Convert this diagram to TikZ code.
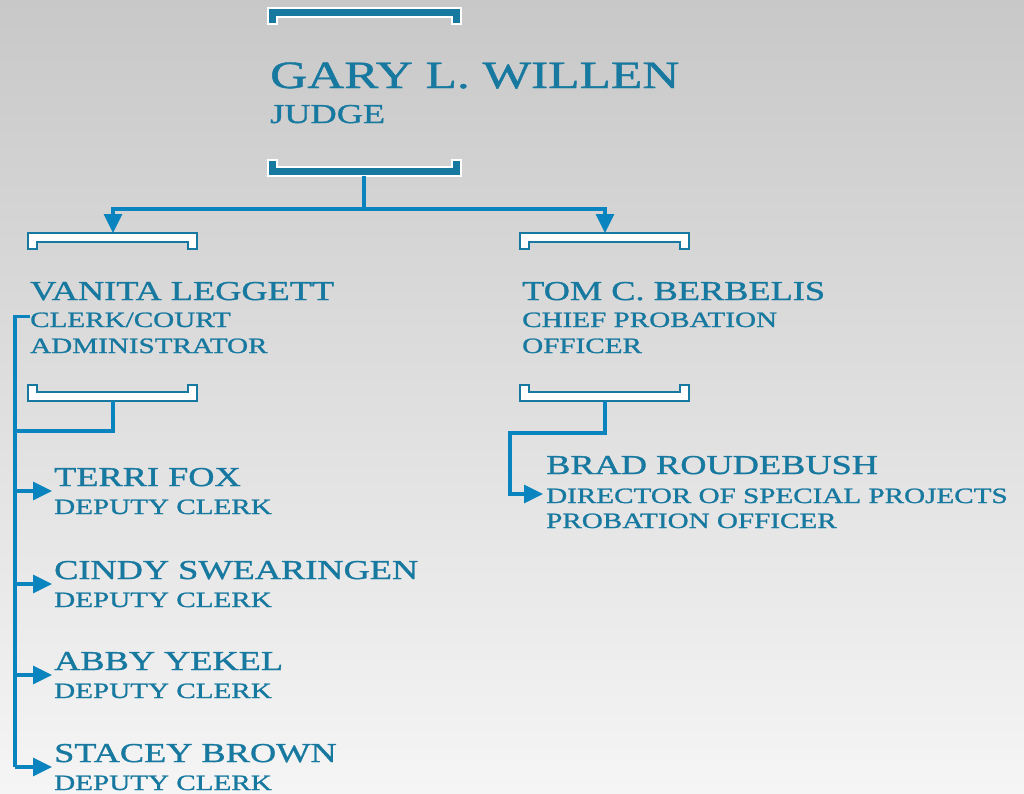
\documentclass[tikz,border=0pt]{standalone}
\usepackage{fontspec}
\setmainfont{Liberation Serif}[FakeStretch=1.33, FakeBold=1.2]
\usetikzlibrary{arrows.meta}
\usetikzlibrary{positioning}

\definecolor{txtblue}{HTML}{17799F}
\definecolor{lineblue}{HTML}{0A84BE}
\definecolor{bgtop}{HTML}{C8C8C8}
\definecolor{bgbot}{HTML}{F5F5F5}

% bracket: style, left x, right x, bar edge y, inner bar y, leg end y
\newcommand{\brkcap}[6]{\draw[#1] (#2,#4) -- (#3,#4) -- (#3,#6) -- (#3-9,#6) -- (#3-9,#5) -- (#2+9,#5) -- (#2+9,#6) -- (#2,#6) -- cycle;}

\begin{document}
\begin{tikzpicture}[x=1pt,y=-1pt,
    namet/.style={anchor=base west,inner sep=0pt,text=txtblue,font=\fontsize{27.3}{27}\selectfont},
    subt/.style={anchor=base west,inner sep=0pt,text=txtblue,font=\fontsize{21.9}{21}\selectfont},
    conn/.style={draw=lineblue,line width=3.2pt},
    arr/.style={conn,-{Triangle[length=19pt,width=18pt]}},
    brk/.style={draw=txtblue,fill=white,line width=2pt},
    topbrk/.style={draw=white,fill=txtblue,line width=2pt}]
    \useasboundingbox (0,0) rectangle (1024,793);
    \shade[top color=bgtop,bottom color=bgbot] (0,0) rectangle (1024,793);

    % judge
    \brkcap{topbrk}{268}{461}{8}{17}{24}
    \brkcap{topbrk}{268}{461}{176}{167}{160}
    \node[namet,font=\fontsize{38.6}{39}\selectfont] (gary) at (270,88) {GARY L. WILLEN};
    \node[namet] (judge) at ([yshift=-35pt]gary.base west) {JUDGE};
    \coordinate (garybot) at (364,176);

    % clerk
    \brkcap{brk}{28}{197}{233}{242}{249}
    \brkcap{brk}{28}{197}{401}{392}{385}
    \node[namet] (vanita) at (30,300) {VANITA LEGGETT};
    \node[subt] (clerk) at ([yshift=-27pt]vanita.base west) {CLERK/COURT};
    \node[subt] (admin) at ([yshift=-26pt]clerk.base west) {ADMINISTRATOR};
    \coordinate (vantop) at (113,233);
    \coordinate (vanbot) at (113,401);

    % probation
    \brkcap{brk}{520}{689}{233}{242}{249}
    \brkcap{brk}{520}{689}{401}{392}{385}
    \node[namet] (tom) at (522,300) {TOM C. BERBELIS};
    \node[subt] (chief) at ([yshift=-27pt]tom.base west) {CHIEF PROBATION};
    \node[subt] (officer) at ([yshift=-26pt]chief.base west) {OFFICER};
    \coordinate (tomtop) at (605,233);
    \coordinate (tombot) at (605,401);

    \node[namet] (brad) at (546,474) {BRAD ROUDEBUSH};
    \node[subt] (director) at ([yshift=-29pt]brad.base west) {DIRECTOR OF SPECIAL PROJECTS};
    \node[subt] (probation) at ([yshift=-25pt]director.base west) {PROBATION OFFICER};
    \coordinate (brad-in) at ([shift={(-3pt,9pt)}]director.base west);

    % deputies
    \coordinate (trunk) at (15,0);
    \foreach \who/\nm/\y in {terri/TERRI FOX/486, cindy/CINDY SWEARINGEN/579, abby/ABBY YEKEL/670, stacey/STACEY BROWN/762} {
      \node[namet] (\who) at (54,\y) {\nm};
      \node[subt] (\who-sub) at ([yshift=-28pt]\who.base west) {DEPUTY CLERK};
      \coordinate (\who-in) at ([shift={(-2pt,-5pt)}]\who.base west);
      \draw[arr] (trunk |- \who-in) -- (\who-in);
    }

    % connectors
    \draw[arr] (garybot) -- ++(0,33) -| (vantop);
    \draw[arr] (garybot) -- ++(0,33) -| (tomtop);
    \draw[conn] ([yshift=-4pt]clerk.north west) -| (trunk |- stacey-in);
    \draw[conn] (vanbot) |- ++(-98,30);
    \draw[arr] (tombot) -- ++(0,32) -| ([xshift=-33pt]brad-in) -- (brad-in);
\end{tikzpicture}
\end{document}
